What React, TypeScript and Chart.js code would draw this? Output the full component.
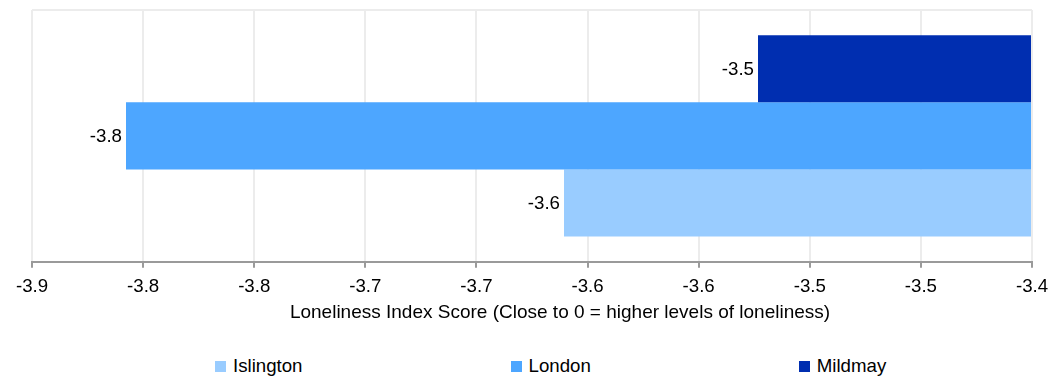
import React, { useEffect, useRef } from "react";
import { Chart, registerables } from "chart.js";

Chart.register(...registerables);

const categories = ["Loneliness"];
const seriesNames = ["Mildmay", "London", "Islington"];
const mildmayValues = [-3.537];
const londonValues = [-3.853];
const islingtonValues = [-3.634];
const seriesColors = ["#002eb0", "#4da6ff", "#99ccff"];
const legendOrder = ["Islington", "London", "Mildmay"];
const xMin = -3.9;
const xMax = -3.4;
const xIntervals = 9;
const axisTitle = "Loneliness Index Score (Close to 0 = higher levels of loneliness)";

const FONT = "'Liberation Sans', Arial, sans-serif";
const FS = 18.67;
const TITLE_FS = 19;

const dataLabelPlugin = {
  id: "dataLabels",
  afterDatasetsDraw(chart: any) {
    const ctx = chart.ctx;
    ctx.save();
    ctx.font = `${FS}px ${FONT}`;
    ctx.fillStyle = "#000";
    ctx.textAlign = "right";
    ctx.textBaseline = "middle";
    chart.data.datasets.forEach((ds: any, i: number) => {
      const meta = chart.getDatasetMeta(i);
      meta.data.forEach((el: any, j: number) => {
        const v = ds.data[j];
        const label = (Math.trunc(v * 10) / 10).toFixed(1);
        ctx.fillText(label, el.x - 4, el.y + 1);
      });
    });
    ctx.restore();
  },
};

const axisTitlePlugin = {
  id: "axisTitleShifted",
  afterDraw(chart: any) {
    const s = chart.scales.x;
    const ctx = chart.ctx;
    ctx.save();
    ctx.font = `${TITLE_FS}px ${FONT}`;
    ctx.fillStyle = "#000";
    ctx.textAlign = "center";
    ctx.textBaseline = "middle";
    const cx = (s.left + s.right) / 2 + 28;
    const cy = s.bottom - 4 - (TITLE_FS * 1.2) / 2;
    ctx.fillText(axisTitle, cx, cy);
    ctx.restore();
  },
};

export default function App() {
  const ref = useRef<HTMLCanvasElement | null>(null);
  useEffect(() => {
    if (!ref.current) return;
    Chart.defaults.font.family = FONT;
    const valuesBySeries = [mildmayValues, londonValues, islingtonValues];
    const chart = new Chart(ref.current, {
      type: "bar",
      data: {
        labels: categories,
        datasets: seriesNames.map((name, i) => ({
          label: name,
          data: valuesBySeries[i],
          backgroundColor: seriesColors[i],
          base: xMax,
          barPercentage: 1,
          categoryPercentage: 0.8,
        })),
      },
      options: {
        indexAxis: "y",
        animation: false,
        responsive: false,
        maintainAspectRatio: false,
        layout: { padding: { left: 32, right: 24, top: 10, bottom: 12 } },
        plugins: {
          legend: { display: false },
          tooltip: { enabled: false },
        },
        scales: {
          x: {
            type: "linear",
            min: xMin,
            max: xMax,
            afterBuildTicks: (scale: any) => {
              const t = [];
              for (let i = 0; i <= xIntervals; i++) {
                t.push({ value: xMin + ((xMax - xMin) * i) / xIntervals });
              }
              scale.ticks = t;
            },
            afterFit: (scale: any) => {
              scale.paddingLeft = 0;
              scale.paddingRight = 0;
            },
            ticks: {
              color: "#000",
              font: { size: FS, family: FONT },
              padding: 8,
              maxRotation: 0,
              autoSkip: false,
              callback: (v: any) => Number(v).toFixed(1),
            },
            grid: {
              color: "#ececec",
              lineWidth: 2,
              tickColor: "#9a9a9a",
              tickWidth: 2,
              tickLength: 6,
            },
            border: { display: true, color: "#9a9a9a", width: 2 },
            title: {
              display: true,
              text: axisTitle,
              color: "rgba(0,0,0,0)",
              font: { size: TITLE_FS, family: FONT },
              padding: { top: -5, bottom: 4 },
            },
          },
          y: {
            ticks: { display: false },
            grid: { color: "#ececec", lineWidth: 2, drawTicks: false },
            border: { display: false },
          },
        },
      },
      plugins: [dataLabelPlugin, axisTitlePlugin],
    });
    return () => chart.destroy();
  }, []);

  const colorFor = (n: string) => seriesColors[seriesNames.indexOf(n)];

  return (
    <div style={{ position: "fixed", left: 0, top: 0, width: 1056, height: 376, background: "#fff", fontFamily: FONT }}>
      <canvas ref={ref} width={1056} height={340} style={{ display: "block", width: 1056, height: 340 }} />
      <div
        style={{
          position: "absolute",
          left: 215,
          top: 356,
          display: "flex",
          alignItems: "center",
          gap: 208,
          fontSize: FS,
          color: "#000",
        }}
      >
        {legendOrder.map((n) => (
          <div key={n} style={{ display: "flex", alignItems: "center" }}>
            <span style={{ display: "inline-block", width: 11, height: 11, background: colorFor(n), marginRight: 7 }} />
            <span style={{ lineHeight: "20px" }}>{n}</span>
          </div>
        ))}
      </div>
    </div>
  );
}
